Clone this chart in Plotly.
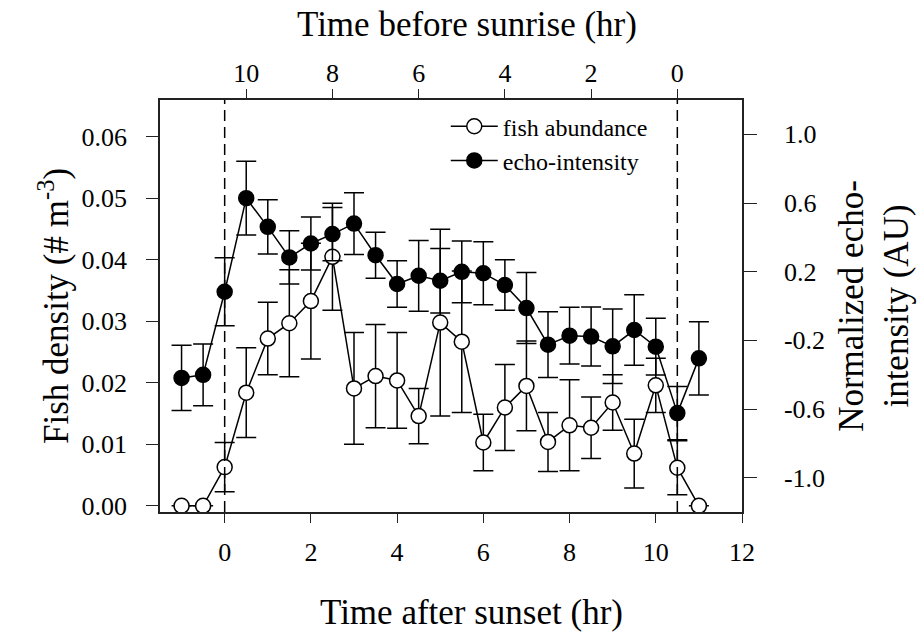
import plotly.graph_objects as go

# ---- data ----
time_after_sunset = [-1, -0.5, 0, 0.5, 1, 1.5, 2, 2.5, 3, 3.5, 4, 4.5, 5, 5.5,
                     6, 6.5, 7, 7.5, 8, 8.5, 9, 9.5, 10, 10.5, 11]
fish_density = [0, 0, 0.0063, 0.0184, 0.0272, 0.0297, 0.0333, 0.0405, 0.0191,
                0.0211, 0.0204, 0.0146, 0.0298, 0.0267, 0.0103, 0.0160, 0.0195,
                0.0104, 0.0131, 0.0127, 0.0168, 0.0085, 0.0196, 0.0062, 0]
fish_err = [None, None, 0.0040, 0.0073, 0.0059, 0.0087, 0.0094, 0.0087, 0.0091,
            0.0084, 0.0078, 0.0045, 0.0152, 0.0115, 0.0046, 0.0070, 0.0073,
            0.0048, 0.0074, 0.0050, 0.0045, 0.0056, 0.0044, 0.0044, None]
echo_intensity = [-0.419, -0.401, 0.083, 0.628, 0.461, 0.283, 0.364, 0.419, 0.480,
                  0.296, 0.128, 0.176, 0.147, 0.199, 0.191, 0.122, -0.012, -0.225,
                  -0.173, -0.178, -0.235, -0.140, -0.237, -0.624, -0.305]
echo_err = [0.19, 0.18, 0.198, 0.215, 0.158, 0.155, 0.155, 0.155, 0.18, 0.134,
            0.136, 0.206, 0.188, 0.18, 0.184, 0.147, 0.207, 0.192, 0.165, 0.172,
            0.217, 0.205, 0.165, 0.155, 0.213]

event_times = [0, 10.5]          # sunset, sunrise
bottom_ticks = [0, 2, 4, 6, 8, 10, 12]
top_tick_values = [10, 8, 6, 4, 2, 0]
top_tick_text = ["10", "8", "6", "4", "2", "0"]
left_ticks = [0, 0.01, 0.02, 0.03, 0.04, 0.05, 0.06]
left_tick_text = ["0.00", "0.01", "0.02", "0.03", "0.04", "0.05", "0.06"]
right_ticks = [-1.0, -0.6, -0.2, 0.2, 0.6, 1.0]
right_tick_text = ["-1.0", "-0.6", "-0.2", "0.2", "0.6", "1.0"]

top_tick_pos = [event_times[1] - v for v in top_tick_values]

FONT = "Liberation Serif"
XR = [-1.5, 12]
TICK_FONT = dict(family=FONT, size=26, color="black")
TITLE_FONT = dict(family=FONT, size=35, color="black")

fig = go.Figure()

fig.add_trace(go.Scatter(
    x=time_after_sunset, y=fish_density, name="fish abundance",
    mode="lines+markers",
    line=dict(color="black", width=1.5),
    marker=dict(symbol="circle", size=15, color="white",
                line=dict(color="black", width=1.5)),
    error_y=dict(type="data", array=fish_err, visible=True,
                 color="black", thickness=1.5, width=10),
    xaxis="x", yaxis="y",
))
fig.add_trace(go.Scatter(
    x=time_after_sunset, y=echo_intensity, name="echo-intensity",
    mode="lines+markers",
    line=dict(color="black", width=1.5),
    marker=dict(symbol="circle", size=15, color="black",
                line=dict(color="black", width=1.5)),
    error_y=dict(type="data", array=echo_err, visible=True,
                 color="black", thickness=1.5, width=10),
    xaxis="x", yaxis="y2",
))
# invisible trace to anchor the top axis
fig.add_trace(go.Scatter(x=top_tick_pos, y=[None] * len(top_tick_pos),
                         xaxis="x2", yaxis="y", showlegend=False,
                         hoverinfo="skip", mode="markers"))

for t in event_times:
    fig.add_shape(type="line", xref="x", yref="paper", x0=t, x1=t, y0=0, y1=1,
                  line=dict(color="black", width=1.5, dash="11px,6px"))

fig.add_annotation(text="Time after sunset (hr)", xref="paper", yref="paper",
                   x=0.536, y=-0.245, xanchor="center", yanchor="middle",
                   showarrow=False, font=TITLE_FONT)
fig.add_annotation(text="Time before sunrise (hr)", xref="paper", yref="paper",
                   x=0.527, y=1.184, xanchor="center", yanchor="middle",
                   showarrow=False, font=TITLE_FONT)

axis_common = dict(showline=True, linecolor="#222", linewidth=1.5,
                   ticks="outside", tickwidth=1.2, tickcolor="#222",
                   showgrid=False, zeroline=False, tickfont=TICK_FONT)

fig.update_layout(
    width=920, height=637,
    paper_bgcolor="white", plot_bgcolor="white",
    margin=dict(l=160, r=178, t=100, b=125),
    font=dict(family=FONT, color="black"),
    xaxis=dict(range=XR, tickvals=bottom_ticks, ticklen=9, ticklabelstandoff=7,
               **axis_common),
    xaxis2=dict(range=XR, overlaying="x", side="top", anchor="y",
                tickvals=top_tick_pos, ticktext=top_tick_text, ticklen=9,
                ticklabelstandoff=-3, **axis_common),
    yaxis=dict(range=[-0.001, 0.066], tickvals=left_ticks, ticktext=left_tick_text,
               ticklen=12, ticklabelstandoff=14,
               title=dict(text="Fish density (# m<sup>-3</sup>)", font=TITLE_FONT,
                          standoff=2),
               **axis_common),
    yaxis2=dict(range=[-1.2, 1.2], overlaying="y", side="right", anchor="x",
                tickvals=right_ticks, ticktext=right_tick_text,
                ticklen=13, ticklabelstandoff=22,
                title=dict(text="Normalized echo-<br>intensity (AU)",
                           font=TITLE_FONT, standoff=14),
                **axis_common),
    legend=dict(x=0.491, y=0.99, xanchor="left", yanchor="top",
                bgcolor="rgba(0,0,0,0)", borderwidth=0,
                font=dict(family=FONT, size=24, color="black"),
                itemwidth=47, tracegroupgap=0),
    showlegend=True,
)

fig.write_html("out.html",
               config={"displayModeBar": False},
               post_script="document.body.style.margin='0';"
                           "document.body.style.overflow='hidden';")
